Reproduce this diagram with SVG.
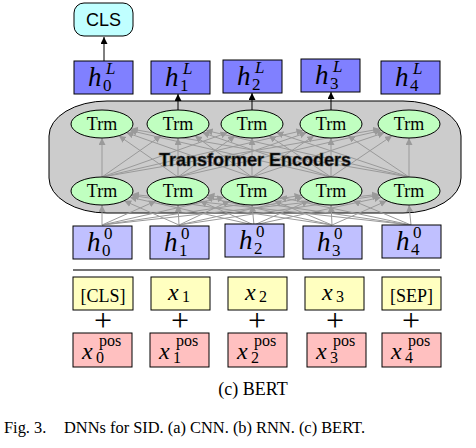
<svg xmlns="http://www.w3.org/2000/svg" width="476" height="448" viewBox="0 0 476 448">
<style>
.box{stroke:#000;stroke-width:1}
.hl{fill:#8080ff}
.h0{fill:#c0c0ff}
.tok{fill:#ffffc0}
.pos{fill:#ffc0c0}
.trm{fill:#c0ffc0;stroke:#000;stroke-width:1}
.serif{font-family:"Liberation Serif","Times New Roman",serif;fill:#000}
.it{font-style:italic}
.big{font-size:27px}
.sm{font-size:17px}
.xb{font-size:24px}
.xs{font-size:16px}
.tt{font-size:18px;text-anchor:middle}
.g line{stroke:#9a9a9a;stroke-width:1;marker-end:url(#ag)}
.k line{stroke:#000;stroke-width:1;marker-end:url(#ak)}
</style>
<defs>
<marker id="ag" markerUnits="userSpaceOnUse" markerWidth="8" markerHeight="8" refX="7" refY="3.5" orient="auto"><path d="M0,0 L7,3.5 L0,7 z" fill="#9a9a9a"/></marker>
<marker id="ak" markerUnits="userSpaceOnUse" markerWidth="8" markerHeight="8" refX="7" refY="3.5" orient="auto"><path d="M0,0 L7,3.5 L0,7 z" fill="#000"/></marker>
</defs>
<rect width="476" height="448" fill="#fff"/>

<g id="encoder-block">
<rect x="49" y="101" width="412" height="112" rx="58" ry="35" fill="#cccccc" stroke="#000" stroke-width="1"/>
</g>

<g id="connectors">
<g class="g">
<line x1="102" y1="225" x2="102" y2="205"/>
<line x1="179" y1="225" x2="124.2" y2="200.8"/>
<line x1="254" y1="225" x2="129.8" y2="197.2"/>
<line x1="332" y1="225" x2="131.5" y2="195.4"/>
<line x1="411" y1="225" x2="132.1" y2="194.3"/>
<line x1="102" y1="225" x2="156" y2="200.9"/>
<line x1="179" y1="225" x2="178" y2="205"/>
<line x1="254" y1="225" x2="200" y2="200.9"/>
<line x1="332" y1="225" x2="205.8" y2="197.2"/>
<line x1="411" y1="225" x2="207.5" y2="195.3"/>
<line x1="102" y1="225" x2="224.2" y2="197.2"/>
<line x1="179" y1="225" x2="229.8" y2="200.9"/>
<line x1="254" y1="225" x2="252" y2="205"/>
<line x1="332" y1="225" x2="274.2" y2="200.8"/>
<line x1="411" y1="225" x2="279.8" y2="197.2"/>
<line x1="102" y1="225" x2="301.5" y2="195.4"/>
<line x1="179" y1="225" x2="303.2" y2="197.2"/>
<line x1="254" y1="225" x2="308.8" y2="200.8"/>
<line x1="332" y1="225" x2="331" y2="205"/>
<line x1="411" y1="225" x2="353.2" y2="200.8"/>
<line x1="102" y1="225" x2="378.9" y2="194.3"/>
<line x1="179" y1="225" x2="379.5" y2="195.4"/>
<line x1="254" y1="225" x2="381.2" y2="197.2"/>
<line x1="332" y1="225" x2="386.8" y2="200.8"/>
<line x1="411" y1="225" x2="409" y2="205"/>
<line x1="102" y1="177" x2="102" y2="138"/>
<line x1="178" y1="177" x2="118.9" y2="135.75"/>
<line x1="252" y1="177" x2="126.4" y2="132.6"/>
<line x1="331" y1="177" x2="129.6" y2="130.4"/>
<line x1="409" y1="177" x2="131" y2="129"/>
<line x1="102" y1="177" x2="161.1" y2="135.75"/>
<line x1="178" y1="177" x2="178" y2="138"/>
<line x1="252" y1="177" x2="194.9" y2="135.75"/>
<line x1="331" y1="177" x2="202.4" y2="132.6"/>
<line x1="409" y1="177" x2="205.6" y2="130.4"/>
<line x1="102" y1="177" x2="227.6" y2="132.6"/>
<line x1="178" y1="177" x2="235.1" y2="135.75"/>
<line x1="252" y1="177" x2="252" y2="138"/>
<line x1="331" y1="177" x2="268.9" y2="135.75"/>
<line x1="409" y1="177" x2="276.4" y2="132.6"/>
<line x1="102" y1="177" x2="303.4" y2="130.4"/>
<line x1="178" y1="177" x2="306.6" y2="132.6"/>
<line x1="252" y1="177" x2="314.1" y2="135.75"/>
<line x1="331" y1="177" x2="331" y2="138"/>
<line x1="409" y1="177" x2="347.9" y2="135.75"/>
<line x1="102" y1="177" x2="380" y2="129"/>
<line x1="178" y1="177" x2="381.4" y2="130.4"/>
<line x1="252" y1="177" x2="384.6" y2="132.6"/>
<line x1="331" y1="177" x2="392.1" y2="135.75"/>
<line x1="409" y1="177" x2="409" y2="138"/>
</g>
<g class="k">
<line x1="104" y1="61" x2="104" y2="37"/>
<line x1="178" y1="110" x2="178" y2="94"/>
<line x1="252" y1="110" x2="252" y2="93"/>
<line x1="331" y1="110" x2="331" y2="92"/>
</g>
</g>

<g id="label-encoders">
<text x="255" y="166" text-anchor="middle" font-family="Liberation Sans, Arial, sans-serif" font-weight="bold" font-size="18" fill="#000" stroke="#444" stroke-width="0.6">Transformer Encoders</text>
</g>

<g id="cls-out">
<rect x="74" y="3" width="59" height="33" rx="10" ry="10" fill="#c0ffff" stroke="#000" stroke-width="1"/>
<text x="103.5" y="26" text-anchor="middle" font-family="Liberation Sans, Arial, sans-serif" font-size="18" fill="#000">CLS</text>
</g>

<g id="hL0"><rect class="box hl" x="74" y="61" width="59" height="33"/><text class="serif"><tspan class="it big" x="88" y="86">h</tspan><tspan class="it sm" x="106" y="74">L</tspan><tspan class="sm" x="103" y="91">0</tspan></text></g>
<g id="hL1"><rect class="box hl" x="151" y="61" width="59" height="33"/><text class="serif"><tspan class="it big" x="165" y="86">h</tspan><tspan class="it sm" x="183" y="74">L</tspan><tspan class="sm" x="180" y="91">1</tspan></text></g>
<g id="hL2"><rect class="box hl" x="223" y="60" width="59" height="33"/><text class="serif"><tspan class="it big" x="237" y="85">h</tspan><tspan class="it sm" x="255" y="73">L</tspan><tspan class="sm" x="252" y="90">2</tspan></text></g>
<g id="hL3"><rect class="box hl" x="301" y="59" width="59" height="33"/><text class="serif"><tspan class="it big" x="315" y="84">h</tspan><tspan class="it sm" x="333" y="72">L</tspan><tspan class="sm" x="330" y="89">3</tspan></text></g>
<g id="hL4"><rect class="box hl" x="381" y="61" width="59" height="33"/><text class="serif"><tspan class="it big" x="395" y="86">h</tspan><tspan class="it sm" x="413" y="74">L</tspan><tspan class="sm" x="410" y="91">4</tspan></text></g>

<g id="trm-top-0"><ellipse class="trm" cx="102" cy="124" rx="31" ry="14"/><text class="serif tt" x="102" y="130">Trm</text></g>
<g id="trm-top-1"><ellipse class="trm" cx="178" cy="124" rx="31" ry="14"/><text class="serif tt" x="178" y="130">Trm</text></g>
<g id="trm-top-2"><ellipse class="trm" cx="252" cy="124" rx="31" ry="14"/><text class="serif tt" x="252" y="130">Trm</text></g>
<g id="trm-top-3"><ellipse class="trm" cx="331" cy="124" rx="31" ry="14"/><text class="serif tt" x="331" y="130">Trm</text></g>
<g id="trm-top-4"><ellipse class="trm" cx="409" cy="124" rx="31" ry="14"/><text class="serif tt" x="409" y="130">Trm</text></g>

<g id="trm-bot-0"><ellipse class="trm" cx="102" cy="191" rx="31" ry="14"/><text class="serif tt" x="102" y="197">Trm</text></g>
<g id="trm-bot-1"><ellipse class="trm" cx="178" cy="191" rx="31" ry="14"/><text class="serif tt" x="178" y="197">Trm</text></g>
<g id="trm-bot-2"><ellipse class="trm" cx="252" cy="191" rx="31" ry="14"/><text class="serif tt" x="252" y="197">Trm</text></g>
<g id="trm-bot-3"><ellipse class="trm" cx="331" cy="191" rx="31" ry="14"/><text class="serif tt" x="331" y="197">Trm</text></g>
<g id="trm-bot-4"><ellipse class="trm" cx="409" cy="191" rx="31" ry="14"/><text class="serif tt" x="409" y="197">Trm</text></g>

<g id="h00"><rect class="box h0" x="73" y="226" width="59" height="33"/><text class="serif"><tspan class="it big" x="87" y="251">h</tspan><tspan class="sm" x="104" y="239">0</tspan><tspan class="sm" x="102" y="256">0</tspan></text></g>
<g id="h01"><rect class="box h0" x="150" y="226" width="59" height="33"/><text class="serif"><tspan class="it big" x="164" y="251">h</tspan><tspan class="sm" x="181" y="239">0</tspan><tspan class="sm" x="179" y="256">1</tspan></text></g>
<g id="h02"><rect class="box h0" x="225" y="224" width="59" height="33"/><text class="serif"><tspan class="it big" x="239" y="249">h</tspan><tspan class="sm" x="256" y="237">0</tspan><tspan class="sm" x="254" y="254">2</tspan></text></g>
<g id="h03"><rect class="box h0" x="303" y="226" width="59" height="33"/><text class="serif"><tspan class="it big" x="317" y="251">h</tspan><tspan class="sm" x="334" y="239">0</tspan><tspan class="sm" x="332" y="256">3</tspan></text></g>
<g id="h04"><rect class="box h0" x="382" y="225" width="59" height="33"/><text class="serif"><tspan class="it big" x="396" y="250">h</tspan><tspan class="sm" x="413" y="238">0</tspan><tspan class="sm" x="411" y="255">4</tspan></text></g>

<g id="separator"><line x1="73" y1="270" x2="440" y2="270" stroke="#444" stroke-width="1.5"/></g>

<g id="tok0"><rect class="box tok" x="73" y="277" width="60" height="33"/><text class="serif" x="103" y="302" font-size="18" text-anchor="middle">[CLS]</text></g>
<g id="tok1"><rect class="box tok" x="151" y="277" width="59" height="33"/><text class="serif"><tspan class="it xb" x="168" y="300">x</tspan><tspan class="xs" x="182" y="302">1</tspan></text></g>
<g id="tok2"><rect class="box tok" x="228" y="277" width="59" height="33"/><text class="serif"><tspan class="it xb" x="245" y="300">x</tspan><tspan class="xs" x="259" y="302">2</tspan></text></g>
<g id="tok3"><rect class="box tok" x="305" y="277" width="59" height="33"/><text class="serif"><tspan class="it xb" x="322" y="300">x</tspan><tspan class="xs" x="336" y="302">3</tspan></text></g>
<g id="tok4"><rect class="box tok" x="382" y="277" width="59" height="33"/><text class="serif" x="411.5" y="302" font-size="18" text-anchor="middle">[SEP]</text></g>

<g id="plus" class="serif" font-size="32" text-anchor="middle">
<text x="103" y="331">+</text>
<text x="180" y="331">+</text>
<text x="257" y="331">+</text>
<text x="335" y="331">+</text>
<text x="411" y="331">+</text>
</g>

<g id="pos0"><rect class="box pos" x="73" y="333" width="59" height="34"/><text class="serif"><tspan class="it xb" x="82" y="359">x</tspan><tspan class="xs" x="99" y="346">pos</tspan><tspan class="xs" x="96" y="363">0</tspan></text></g>
<g id="pos1"><rect class="box pos" x="150" y="333" width="59" height="34"/><text class="serif"><tspan class="it xb" x="159" y="359">x</tspan><tspan class="xs" x="176" y="346">pos</tspan><tspan class="xs" x="173" y="363">1</tspan></text></g>
<g id="pos2"><rect class="box pos" x="228" y="333" width="59" height="34"/><text class="serif"><tspan class="it xb" x="237" y="359">x</tspan><tspan class="xs" x="254" y="346">pos</tspan><tspan class="xs" x="251" y="363">2</tspan></text></g>
<g id="pos3"><rect class="box pos" x="307" y="333" width="59" height="34"/><text class="serif"><tspan class="it xb" x="316" y="359">x</tspan><tspan class="xs" x="333" y="346">pos</tspan><tspan class="xs" x="330" y="363">3</tspan></text></g>
<g id="pos4"><rect class="box pos" x="382" y="333" width="59" height="34"/><text class="serif"><tspan class="it xb" x="391" y="359">x</tspan><tspan class="xs" x="408" y="346">pos</tspan><tspan class="xs" x="405" y="363">4</tspan></text></g>

<g id="captions" class="serif">
<text x="253" y="395" font-size="18" text-anchor="middle">(c) BERT</text>
<text x="4" y="433" font-size="16.4">Fig. 3.</text>
<text x="64" y="433" font-size="16.4">DNNs for SID. (a) CNN. (b) RNN. (c) BERT.</text>
</g>
</svg>
